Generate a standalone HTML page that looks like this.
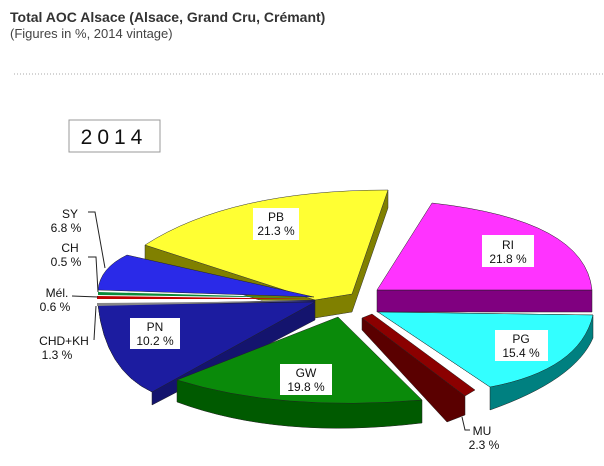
<!DOCTYPE html>
<html><head><style>
body{margin:0;width:604px;height:461px;background:#fff;overflow:hidden;font-family:"Liberation Sans",sans-serif}
</style></head><body>
<svg width="604" height="461" viewBox="0 0 604 461" xmlns="http://www.w3.org/2000/svg" font-family="Liberation Sans, sans-serif">
<text x="10" y="22" font-size="14" font-weight="bold" fill="#333">Total AOC Alsace (Alsace, Grand Cru, Crémant)</text>
<text x="10" y="38" font-size="13" fill="#444">(Figures in %, 2014 vintage)</text>
<line x1="14" y1="74" x2="604" y2="74" stroke="#aaa" stroke-dasharray="1,2"/>
<rect x="69" y="120" width="91" height="32" fill="#fff" stroke="#999"/>
<text x="114" y="144" font-size="21" text-anchor="middle" letter-spacing="5" fill="#111">2014</text>

<!-- PB yellow -->
<path d="M145,245 L145,263 L315,318 L352,312 L388,208 L388,190 L352,294 L315,300 Z" fill="#808000" stroke="#333" stroke-width="0.5"/>
<path d="M145,245 Q230,190 388,190 L352,294 L315,300 Z" fill="#ffff33" stroke="#333" stroke-width="0.5"/>
<!-- blue group -->
<path d="M98,305 Q105,370 152,392 L152,405 L315,320 L315,300 Z" fill="#14146e" stroke="#222" stroke-width="0.5"/>
<path d="M98,305 Q105,370 152,392 L315,302 Z" fill="#1c1ca0" stroke="#222" stroke-width="0.5"/>
<path d="M98,290 Q100,268 127,255 L314,297 Z" fill="#2a2ae8" stroke="#222" stroke-width="0.5"/>
<path d="M98,292 L314,298 L98,295 Z" fill="#0a8a3a"/>
<path d="M97,296 L314,299 L97,299 Z" fill="#c00000"/>
<path d="M97,300 L314,300 L97,302 Z" fill="#fff"/>
<path d="M97,303 L314,301 L97,306 Z" fill="#888"/>
<!-- GW green -->
<path d="M177,380 L177,402 Q280,440 422,423 L422,400 Z" fill="#005a00" stroke="#222" stroke-width="0.5"/>
<path d="M338,317 L177,380 Q280,412 422,400 Z" fill="#0a8a0a" stroke="#222" stroke-width="0.5"/>
<!-- MU -->
<path d="M362,318 L465,396 L465,415 L447,422 L362,330 Z" fill="#5a0000" stroke="#222" stroke-width="0.5"/>
<path d="M362,318 L372,314 L475,390 L465,396 Z" fill="#8b0000" stroke="#222" stroke-width="0.5"/>
<!-- RI magenta -->
<path d="M377,290 L377,312 L592,312 L592,290 Z" fill="#800080" stroke="#222" stroke-width="0.5"/>
<path d="M377,290 L432,203 Q585,220 592,290 Z" fill="#ff33ff" stroke="#222" stroke-width="0.5"/>
<!-- PG cyan -->
<path d="M378,312 L490,387 L490,410 Q575,380 593,338 L593,315 Z" fill="#008080" stroke="#222" stroke-width="0.5"/>
<path d="M378,312 L593,315 Q580,370 490,387 Z" fill="#33ffff" stroke="#222" stroke-width="0.5"/>

<g font-size="12" fill="#111" text-anchor="middle">
<rect x="253" y="208" width="46" height="32" fill="#fff"/>
<text x="276" y="221">PB</text><text x="276" y="235">21.3 %</text>
<rect x="482" y="235" width="52" height="32" fill="#fff"/>
<text x="508" y="249">RI</text><text x="508" y="263">21.8 %</text>
<rect x="495" y="330" width="53" height="31" fill="#fff"/>
<text x="521" y="343">PG</text><text x="521" y="357">15.4 %</text>
<rect x="280" y="364" width="52" height="31" fill="#fff"/>
<text x="306" y="377">GW</text><text x="306" y="391">19.8 %</text>
<rect x="130" y="318" width="50" height="31" fill="#fff"/>
<text x="155" y="331">PN</text><text x="155" y="345">10.2 %</text>
<text x="70" y="218">SY</text><text x="66" y="232">6.8 %</text>
<text x="70" y="252">CH</text><text x="66" y="266">0.5 %</text>
<text x="57" y="297">Mél.</text><text x="55" y="311">0.6 %</text>
<text x="64" y="345">CHD+KH</text><text x="57" y="359">1.3 %</text>
<text x="482" y="435">MU</text><text x="484" y="449">2.3 %</text>
</g>
<g stroke="#222" fill="none" stroke-width="1">
<path d="M88,212 L95,212 L105,268"/>
<path d="M88,257 L96,257 L98,292"/>
<path d="M72,296 L98,297"/>
<path d="M94,340 L96,306"/>
<path d="M470,430 L465,430 L462,417"/>
</g>
</svg>
</body></html>
